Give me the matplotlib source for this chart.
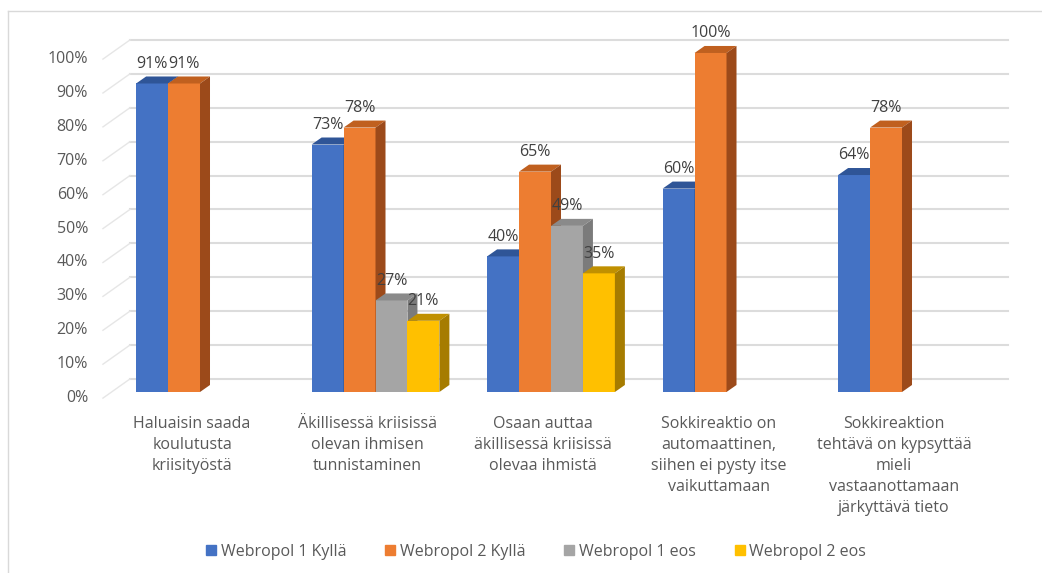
import numpy as np
import matplotlib
matplotlib.use('Agg')
import matplotlib.pyplot as plt
from matplotlib.patches import Polygon, Rectangle
from matplotlib.lines import Line2D

categories = [
    'Haluaisin saada\nkoulutusta\nkriisityöstä',
    'Äkillisessä kriisissä\nolevan ihmisen\ntunnistaminen',
    'Osaan auttaa\näkillisessä kriisissä\nolevaa ihmistä',
    'Sokkireaktio on\nautomaattinen,\nsiihen ei pysty itse\nvaikuttamaan',
    'Sokkireaktion\ntehtävä on kypsyttää\nmieli\nvastaanottamaan\njärkyttävä tieto',
]
series_names = ['Webropol 1 Kyllä', 'Webropol 2 Kyllä', 'Webropol 1 eos', 'Webropol 2 eos']
w1_kylla = [91, 73, 40, 60, 64]
w2_kylla = [91, 78, 65, 100, 78]
w1_eos = [None, 27, 49, None, None]
w2_eos = [None, 21, 35, None, None]
yticks = [0, 10, 20, 30, 40, 50, 60, 70, 80, 90, 100]

series = [w1_kylla, w2_kylla, w1_eos, w2_eos]
front_colors = ['#4472C4', '#ED7D31', '#A5A5A5', '#FFC000']
top_colors = ['#2F5597', '#C0601F', '#8A8A8A', '#C09000']
side_colors = ['#2A4C86', '#9C4A1A', '#7B7B7B', '#A67C00']

plt.rcParams['font.family'] = ['Open Sans', 'DejaVu Sans']

fig = plt.figure(figsize=(10.42, 5.73), dpi=100)
ax = fig.add_axes([0, 0, 1, 1])
ax.set_xlim(-1.1396, 4.7977)
ax.set_ylim(-53.39, 115.63)
ax.axis('off')

bar_w = 0.182
dx, dy = 0.057, 2.07          # bar depth offset
wall_dy = 3.85                # back wall offset
x_front_left, x_wall_left, x_wall_right = -0.553, -0.399, 4.604
grid_color = '#DCDCDC'
text_color = '#404040'
fs = 11.5

# back wall gridlines and side wall lines
for v in yticks:
    ax.plot([x_wall_left, x_wall_right], [v + wall_dy, v + wall_dy], color=grid_color, lw=1.5, zorder=1)
    ax.plot([x_front_left, x_wall_left], [v - 1.8, v + wall_dy], color='#E6E6E6', lw=1.0, zorder=1)
    ax.text(x_front_left - 0.085, v - 1.8, f'{v}%', ha='right', va='center', fontsize=fs, color='#595959')

x = np.arange(len(categories))
offsets = (np.arange(4) - 1.5) * bar_w
for gi in range(len(categories)):
    for si, vals in enumerate(series):
        v = vals[gi]
        if v is None:
            continue
        x0 = x[gi] + offsets[si] - bar_w / 2
        x1 = x0 + bar_w
        z = 3 + gi * 10 + si
        ax.add_patch(Rectangle((x0, 0), bar_w, v, facecolor=front_colors[si], edgecolor='none', zorder=z))
        ax.add_patch(Polygon([(x0, v), (x1, v), (x1 + dx, v + dy), (x0 + dx, v + dy)],
                             facecolor=top_colors[si], edgecolor='none', zorder=z))
        ax.add_patch(Polygon([(x1, 0), (x1 + dx, dy), (x1 + dx, v + dy), (x1, v)],
                             facecolor=side_colors[si], edgecolor='none', zorder=z))
        ax.text(x0 + bar_w / 2, v + 5.8, f'{v}%', ha='center', va='center', fontsize=fs,
                color=text_color, zorder=100)

for gi, label in enumerate(categories):
    ax.text(x[gi] - 0.045, -7.0, label, ha='center', va='top', fontsize=fs, color='#595959',
            linespacing=1.42)

handles = [Line2D([], [], marker='s', linestyle='none', markersize=6.5, color=c) for c in front_colors]
fig.legend(handles, series_names, loc='center', bbox_to_anchor=(536 / 1042, 1 - 552 / 573), ncol=4,
           frameon=False, fontsize=fs, handlelength=0.7, handletextpad=0.25, columnspacing=2.4,
           labelcolor='#595959')

# chart border
fig.add_artist(Line2D([8 / 1042, 8 / 1042], [0, 1 - 11 / 573], transform=fig.transFigure, color='#D9D9D9', lw=1))
fig.add_artist(Line2D([8 / 1042, 1], [1 - 11 / 573, 1 - 11 / 573], transform=fig.transFigure, color='#D9D9D9', lw=1))

fig.savefig('out.png', dpi=100)
